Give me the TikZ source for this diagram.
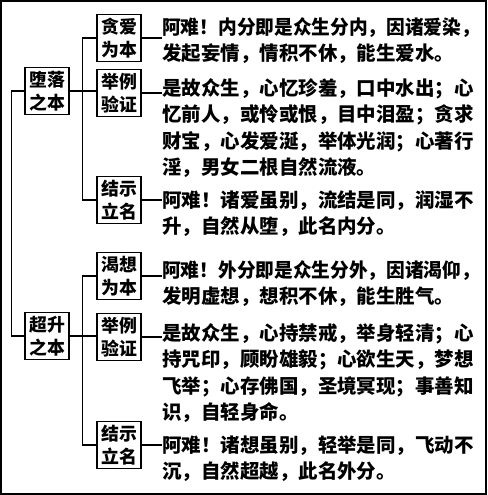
\documentclass[tikz,border=0pt]{standalone}
\usepackage{fontspec}
\newfontfamily\cjk{Noto Sans CJK SC}
\usepackage{tikz}
\usetikzlibrary{positioning}

% slightly narrower set for the two long first lines
\newcommand{\tightline}[1]{{\addfontfeature{FakeStretch=0.96}#1}}

\tikzset{
  tag/.style={draw, line width=1pt, align=center, inner sep=0pt,
    minimum width=33pt, minimum height=35pt,
    font=\cjk\bfseries\fontsize{13.4}{17}\selectfont},
  body/.style={anchor=north west, align=left, inner sep=0pt,
    font=\cjk\bfseries\fontsize{14.6}{19.9}\selectfont},
  link/.style={line width=1pt}
}

\begin{document}
\begin{tikzpicture}[x=0.75pt,y=0.75pt,yscale=-1,xscale=1]
\useasboundingbox (0,0) rectangle (487,495);

%Shape: Rectangle (frame)
\draw [line width=1.8pt] (1.2,1.2) rectangle (485.8,493.8);

%Nodes: roots
\node [tag] (fall) at (47,91) {堕落\\之本};
\node [tag] (rise) at (47,336) {超升\\之本};

%Nodes: branches of the first root
\node [tag] (fallcause) at (119,38) {贪爱\\为本};
\node [tag] (fallproof) at (119,93) {举例\\验证};
\node [tag] (fallname) at (119,200) {结示\\立名};

%Nodes: branches of the second root
\node [tag] (risecause) at (119,276) {渴想\\为本};
\node [tag] (riseproof) at (119,337) {举例\\验证};
\node [tag] (risename) at (119,445) {结示\\立名};

%Text blocks
\node [body] (fallcausetxt) at (162,17) {\tightline{阿难！内分即是众生分内，因诸爱染，}\\发起妄情，情积不休，能生爱水。};
\node [body] (fallprooftxt) at (162,78) {是故众生，心忆珍羞，口中水出；心\\忆前人，或怜或恨，目中泪盈；贪求\\财宝，心发爱涎，举体光润；心著行\\淫，男女二根自然流液。};
\node [body] (fallnametxt) at (162,190) {阿难！诸爱虽别，流结是同，润湿不\\升，自然从堕，此名内分。};
\node [body] (risecausetxt) at (162,260) {\tightline{阿难！外分即是众生分外，因诸渴仰，}\\发明虚想，想积不休，能生胜气。};
\node [body] (riseprooftxt) at (162,323) {是故众生，心持禁戒，举身轻清；心\\持咒印，顾盼雄毅；心欲生天，梦想\\飞举；心存佛国，圣境冥现；事善知\\识，自轻身命。};
\node [body] (risenametxt) at (162,435) {阿难！诸想虽别，轻举是同，飞动不\\沉，自然超越，此名外分。};

%Straight Lines: trunk
\draw [link] (fall.west) -- ++(-13,0) |- (rise.west);

%Straight Lines: first root
\draw [link] (fall.east) -- (fall.east -| fallproof.west);
\draw [link] (fallcause.west) -- ++(-14,0) |- (fallname.west);

%Straight Lines: second root
\draw [link] (rise.east) -- (rise.east -| riseproof.west);
\draw [link] (risecause.west) -- ++(-14,0) |- (risename.west);

%Straight Lines: boxes to texts
\draw [link] (fallcause.east) -- (fallcause.east -| fallcausetxt.west);
\draw [link] (fallproof.east) -- (fallproof.east -| fallprooftxt.west);
\draw [link] (fallname.east) -- (fallname.east -| fallnametxt.west);
\draw [link] (risecause.east) -- (risecause.east -| risecausetxt.west);
\draw [link] (riseproof.east) -- (riseproof.east -| riseprooftxt.west);
\draw [link] (risename.east) -- (risename.east -| risenametxt.west);

\end{tikzpicture}
\end{document}
